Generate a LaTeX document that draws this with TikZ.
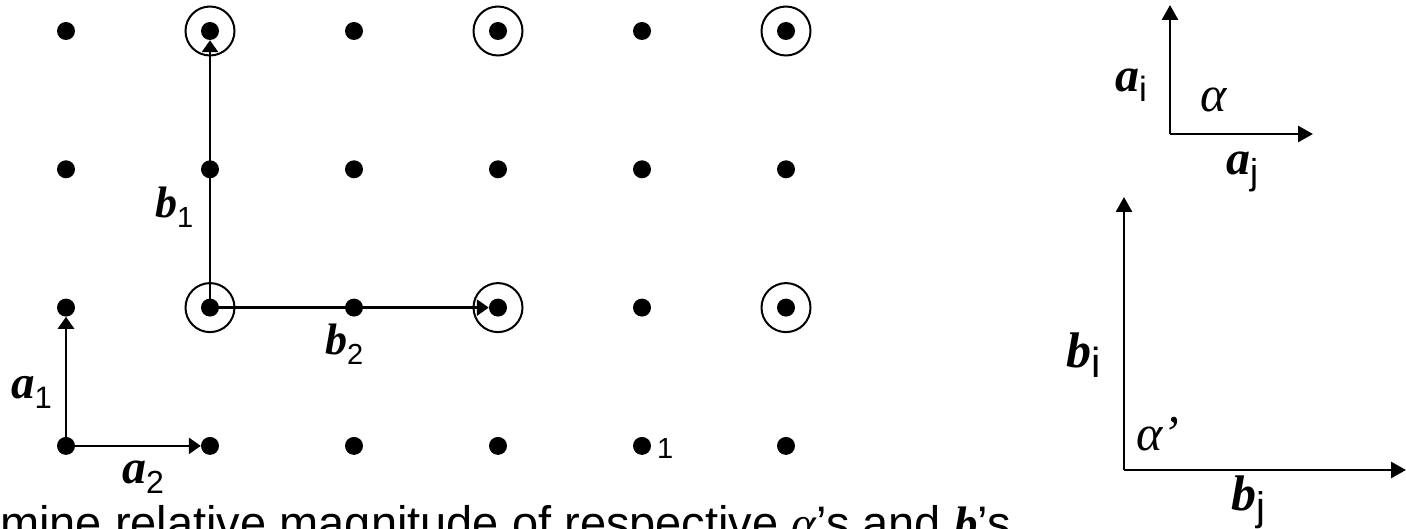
\documentclass[tikz,border=0pt]{standalone}
\usepackage{fontspec}
\setmainfont{Liberation Sans}
\newfontfamily\timesfont{Liberation Serif}
\usetikzlibrary{arrows.meta}

\newcommand{\fs}[1]{\fontsize{#1}{#1}\selectfont}
% bold italic vector with a lowered sans index
\newcommand{\lvec}[4]{{\fs{#1}\timesfont\bfseries\itshape #3}\raisebox{-10pt}{\fs{#2}#4}}

\begin{document}
\begin{tikzpicture}[x=1pt, y=-1pt,
  dot/.style={circle, fill=black, inner sep=0pt, minimum size=18pt},
  ring/.style={circle, draw, line width=2pt, inner sep=0pt, minimum size=49pt},
  lbl/.style={anchor=base west, inner sep=0pt},
  vecarrow/.style={line width=2.8pt, -{Triangle[length=12pt, width=16pt]}},
  axis/.style={line width=2.8pt, -{Triangle[length=15pt, width=16pt]}}
]
\useasboundingbox (0,0) rectangle (1406,529);

% lattice points
\foreach \c in {1,...,6}
  \foreach \r in {1,...,4}
    \node[dot] (d-\c-\r) at ({66+144*(\c-1)}, {31+138.3*(\r-1)}) {};
\foreach \p in {2-1,4-1,6-1,2-3,4-3,6-3}
  \node[ring] (r-\p) at (d-\p) {};

% primitive and supercell vectors
\draw[vecarrow] (d-1-4.center) -- (d-1-3);
\draw[vecarrow] (d-1-4.center) -- (d-2-4);
\draw[vecarrow] (d-2-3.center) -- (d-2-1);
\draw[vecarrow] (d-2-3.center) -- (d-4-3);

\node[lbl] (a1) at (11,398) {\lvec{47}{31}{a}{1}};
\node[lbl] (a2) at (122,483) {\lvec{48}{32}{a}{2}};
\node[lbl] (b1) at (155,218) {\lvec{44}{29}{b}{1}};
\node[lbl] (b2) at (325,355) {\lvec{44}{29}{b}{2}};
\node[lbl, font=\fs{29}] (one) at (657,458) {1};

% angle between a_i and a_j
\coordinate (ao) at (1170,134);
\coordinate (ai) at (1170,5);
\coordinate (aj) at (1313,134);
\draw[axis] (ao) -- (ai);
\draw[axis] (ao) -- (aj);
\node[lbl] (ai-lbl) at (1115,92) {\lvec{48}{35}{a}{i}};
\node[lbl, font=\fs{50}\timesfont\itshape] (alpha) at (1200,112) {α};
\node[lbl] (aj-lbl) at (1226,175) {\lvec{48}{36}{a}{j}};

% angle between b_i and b_j
\coordinate (bo) at (1124,470);
\coordinate (bi) at (1124,197);
\coordinate (bj) at (1406,470);
\draw[axis] (bo) -- (bi);
\draw[axis] (bo) -- (bj);
\node[lbl] (bi-lbl) at (1066,367) {\lvec{50}{42}{b}{i}};
\node[lbl, font=\fs{50}\timesfont\itshape] (alpha2) at (1136,450) {α’};
\node[lbl] (bj-lbl) at (1231,510) {\lvec{50}{40}{b}{j}};

\node[lbl, font=\fs{47}] (caption) at (0,539)
  {mine relative magnitude of respective {\timesfont\itshape α}’s and {\timesfont\bfseries\itshape b}’s};
\end{tikzpicture}
\end{document}
